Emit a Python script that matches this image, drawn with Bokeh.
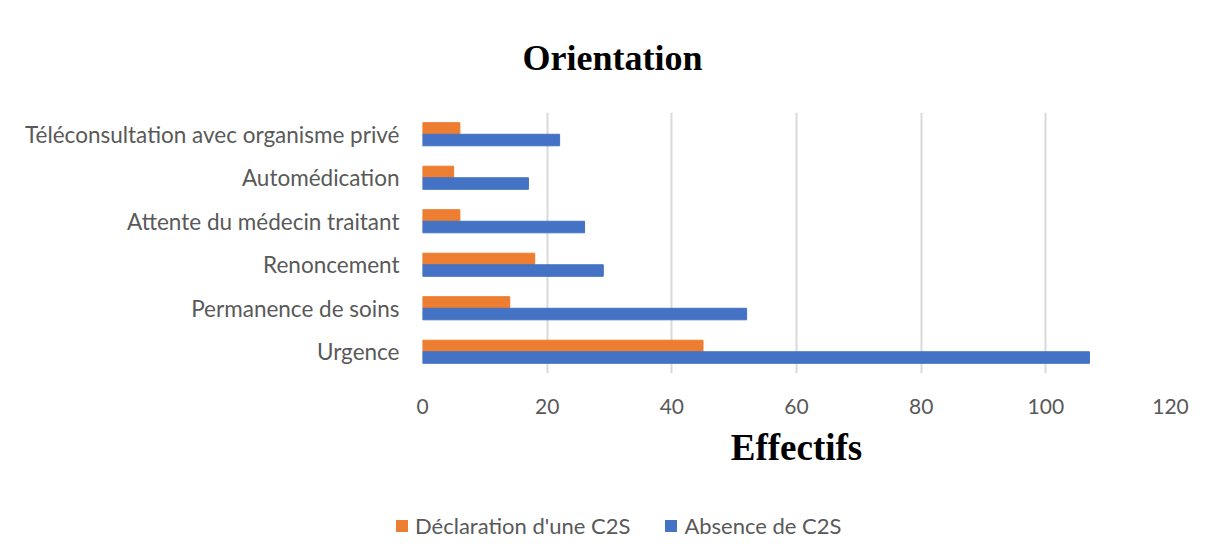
from bokeh.plotting import figure
from bokeh.layouts import column
from bokeh.models import ColumnDataSource, FactorRange, Range1d, Div
from bokeh.transform import dodge
from bokeh.embed import file_html
from bokeh.resources import INLINE

categories = ["Urgence", "Permanence de soins", "Renoncement",
              "Attente du médecin traitant", "Automédication",
              "Téléconsultation avec organisme privé"]
declaration_c2s = [45, 14, 18, 6, 5, 6]
absence_c2s = [107, 52, 29, 26, 17, 22]
x_ticks = [0, 20, 40, 60, 80, 100, 120]
series_names = ["Déclaration d'une C2S", "Absence de C2S"]
colors = ["#ED7D31", "#4472C4"]

src = ColumnDataSource(dict(cat=categories, decl=declaration_c2s, abs=absence_c2s))

W = 1205
p = figure(width=W, height=492, y_range=FactorRange(*categories, range_padding=0),
           x_range=Range1d(0, 120), output_backend="svg", toolbar_location=None,
           min_border_left=422, min_border_right=35, min_border_top=102, min_border_bottom=119)
p.outline_line_color = None
p.background_fill_color = "white"
p.border_fill_color = "white"

p.hbar(y=dodge("cat", 0.133, range=p.y_range), right="decl", left=0, height=0.265,
       source=src, color=colors[0])
p.hbar(y=dodge("cat", -0.133, range=p.y_range), right="abs", left=0, height=0.265,
       source=src, color=colors[1])

p.xaxis.ticker = x_ticks
p.xaxis.axis_line_color = None
p.xaxis.major_tick_line_color = None
p.xaxis.minor_tick_line_color = None
p.xaxis.major_label_text_font = "Lato"
p.xaxis.major_label_text_font_size = "21px"
p.xaxis.major_label_text_color = "#595959"
p.xaxis.major_label_standoff = 19
p.xaxis.axis_label = "Effectifs"
p.xaxis.axis_label_text_font = "Liberation Serif"
p.xaxis.axis_label_text_font_style = "bold"
p.xaxis.axis_label_text_font_size = "37px"
p.xaxis.axis_label_text_color = "black"
p.xaxis.axis_label_standoff = 10

p.yaxis.axis_line_color = None
p.yaxis.major_tick_line_color = None
p.yaxis.minor_tick_line_color = None
p.yaxis.major_label_text_font = "Lato"
p.yaxis.major_label_text_font_size = "22.5px"
p.yaxis.major_label_text_color = "#595959"
p.yaxis.major_label_standoff = 17

p.ygrid.grid_line_color = None
p.xgrid.grid_line_color = "#d9d9d9"
p.xgrid.grid_line_width = 2

p.title.text = "Orientation"
p.title.text_font = "Liberation Serif"
p.title.text_font_style = "bold"
p.title.text_font_size = "36px"
p.title.text_color = "black"
p.title.align = "left"
p.title.offset = 100
p.title.standoff = 70

sq = ('<span style="display:inline-block;width:12px;height:12px;background:{c};'
      'margin-left:{ml}px;margin-right:7px"></span><span>{t}</span>')
html = ('<div style="display:flex;align-items:center;height:54px;padding-top:4px;'
        'padding-left:391px;font-family:Lato;font-size:22px;color:#595959;white-space:nowrap">'
        + sq.format(c=colors[0], ml=0, t=series_names[0])
        + sq.format(c=colors[1], ml=35, t=series_names[1])
        + '</div>')
legend_div = Div(text=html, width=W, height=60)

open("out.html", "w").write(file_html(column(p, legend_div, spacing=0), INLINE))
